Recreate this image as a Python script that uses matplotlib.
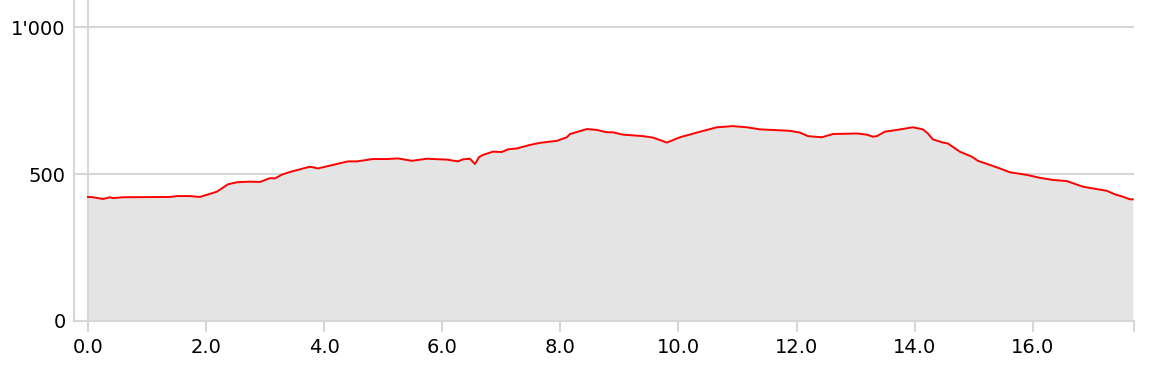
import matplotlib
matplotlib.use("Agg")
import matplotlib.pyplot as plt
from matplotlib.ticker import FuncFormatter

distance_km = [0.00, 0.085, 0.254, 0.372, 0.423, 0.593, 1.388, 1.507, 1.727, 1.896,
               2.184, 2.370, 2.523, 2.743, 2.912, 3.082, 3.166, 3.285, 3.420, 3.759,
               3.894, 4.148, 4.402, 4.555, 4.826, 5.063, 5.249, 5.486, 5.740, 6.079,
               6.265, 6.350, 6.468, 6.553, 6.620, 6.688, 6.857, 7.010, 7.111, 7.264,
               7.484, 7.653, 7.941, 8.110, 8.161, 8.449, 8.618, 8.788, 8.889, 9.058,
               9.397, 9.567, 9.804, 10.024, 10.312, 10.650, 10.921, 11.158, 11.378, 11.886,
               12.056, 12.191, 12.428, 12.614, 13.021, 13.190, 13.291, 13.359, 13.495, 13.698,
               13.969, 14.138, 14.223, 14.307, 14.477, 14.561, 14.764, 14.968, 15.069, 15.272,
               15.442, 15.611, 15.899, 16.119, 16.339, 16.576, 16.847, 17.016, 17.254, 17.389,
               17.524, 17.643, 17.694]
elevation_m = [422, 421, 415, 421, 418, 421, 422, 425, 425, 422,
               440, 465, 472, 474, 473, 486, 485, 498, 507, 525,
               519, 531, 543, 543, 551, 551, 553, 545, 552, 549,
               543, 550, 552, 534, 557, 565, 576, 575, 584, 587,
               599, 606, 613, 625, 636, 653, 650, 642, 642, 634,
               629, 624, 607, 625, 641, 659, 663, 659, 652, 647,
               641, 629, 625, 636, 638, 634, 627, 629, 644, 650,
               659, 652, 638, 618, 607, 604, 576, 559, 545, 531,
               519, 506, 497, 487, 480, 476, 457, 451, 443, 431,
               423, 414, 414]

y_ticks = [0, 500, 1000]
x_ticks = [0, 2, 4, 6, 8, 10, 12, 14, 16]

W, H = 1152, 382
fig = plt.figure(figsize=(W / 100, H / 100), dpi=100)
ax = fig.add_axes([74 / W, (H - 321) / H, (1134 - 74) / W, 321 / H])

grid_c = "#d6d6d6"
ax.fill_between(distance_km, elevation_m, 0, color="#e4e4e4", linewidth=0, zorder=1)
ax.plot(distance_km, elevation_m, color="#ff0000", linewidth=1.4, zorder=3)

for yv in y_ticks[1:]:
    ax.axhline(yv, color=grid_c, linewidth=1.5, zorder=0)
ax.axvline(0, color=grid_c, linewidth=1.5, zorder=2)

xmax = distance_km[-1] + 0.02
ax.set_xlim(-0.237, xmax)
ax.set_ylim(0, 1092)

ax.set_yticks(y_ticks)
ax.yaxis.set_major_formatter(FuncFormatter(lambda v, p: f"{int(v):,}".replace(",", "'")))
ax.set_xticks(x_ticks)
ax.set_xticklabels([f"{v:.1f}" for v in x_ticks])
ax.set_xticks([xmax], minor=True)

for s in ["top", "right"]:
    ax.spines[s].set_visible(False)
for s in ["left", "bottom"]:
    ax.spines[s].set_color(grid_c)
    ax.spines[s].set_linewidth(1.5)

ax.tick_params(axis="y", length=0, pad=6, labelsize=14, labelcolor="black")
ax.tick_params(axis="x", which="both", length=8, width=1.5, color=grid_c, pad=4,
               labelsize=14, labelcolor="black")

fig.savefig("out.png", dpi=100)
